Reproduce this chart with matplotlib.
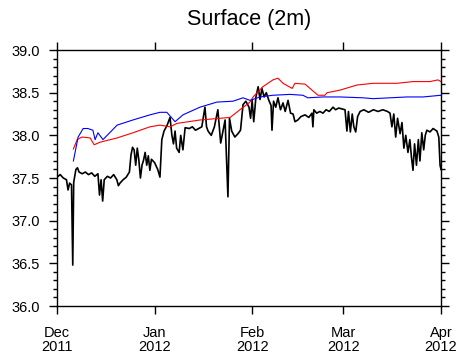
import numpy as np
import matplotlib
matplotlib.use("Agg")
import matplotlib.pyplot as plt
from matplotlib.ticker import MultipleLocator

plt.rcParams['font.family'] = ['Liberation Sans', 'DejaVu Sans']

# days since 2011-12-01 00:00
obs_days = [0, 1, 2, 3, 3.5, 4, 4.6, 5.0, 5.3, 6.0, 6.5, 7, 8, 9, 10, 11, 12, 13, 13.5, 14,
            14.5, 15, 16, 17, 18, 19, 19.5, 20, 21, 22, 23, 23.5, 24, 24.5, 25, 25.5, 26,
            26.5, 27, 27.5, 28, 28.5, 29, 29.5, 30, 31, 32, 32.7, 33.3, 34, 35, 35.9, 36.5,
            37, 37.5, 38, 38.8, 39.3, 40.0, 40.7, 42, 43, 44, 45, 46, 47, 47.5, 48, 49, 50,
            51.1, 52, 53.4, 54.3, 54.8, 55.5, 56.5, 57.5, 58.3, 59.1, 60, 61, 61.5, 62, 62.5,
            63.2, 63.9, 64.5, 65.1, 65.8, 66.5, 67.3, 68.0, 68.3, 68.8, 69.5, 70.2, 71, 71.8,
            72.5, 73.4, 74.2, 75.0, 75.6, 76.5, 77.5, 78.8, 80, 81, 81.3, 81.6, 82.5, 83.5,
            84.5, 85.5, 86.5, 87.7, 88.5, 89.5, 90.5, 91.5, 92.1, 92.6, 93.2, 93.8, 94.3,
            94.9, 95.5, 96.3, 97.5, 99, 100.5, 102, 103.5, 105, 105.8, 106.4, 107, 107.6,
            108.2, 109, 109.6, 110.2, 110.8, 111.5, 112.1, 112.6, 113.1, 113.6, 114.2, 114.8,
            115.3, 115.9, 116.5, 117.0, 117.5, 118.5, 119.5, 120.7, 121.3, 121.7, 122]
obs_vals = [37.51, 37.54, 37.50, 37.48, 37.36, 37.44, 37.42, 36.48, 37.45, 37.60, 37.62, 37.57,
            37.55, 37.57, 37.54, 37.56, 37.52, 37.55, 37.30, 37.48, 37.23, 37.48, 37.52, 37.50,
            37.54, 37.48, 37.41, 37.44, 37.48, 37.51, 37.57, 37.77, 37.86, 37.83, 37.65, 37.85,
            37.71, 37.50, 37.65, 37.71, 37.80, 37.65, 37.76, 37.59, 37.72, 37.68, 37.60, 37.51,
            37.95, 38.05, 38.12, 38.21, 38.00, 37.90, 38.05, 37.85, 37.80, 38.00, 37.83, 38.09,
            38.08, 38.10, 38.06, 38.08, 38.10, 38.33, 38.10, 38.05, 38.00, 38.10, 38.30, 37.91,
            38.18, 37.28, 38.20, 38.05, 37.98, 38.02, 38.06, 38.36, 38.40, 38.33, 38.20, 38.41,
            38.16, 38.45, 38.57, 38.42, 38.55, 38.45, 38.50, 38.41, 38.35, 38.06, 38.40, 38.33,
            38.44, 38.30, 38.38, 38.28, 38.41, 38.26, 38.25, 38.16, 38.18, 38.22, 38.24, 38.21,
            38.26, 38.10, 38.30, 38.26, 38.28, 38.26, 38.30, 38.28, 38.33, 38.30, 38.32, 38.31,
            38.30, 38.05, 38.28, 38.04, 38.25, 38.10, 38.04, 38.22, 38.28, 38.30, 38.27, 38.30,
            38.28, 38.30, 38.28, 38.26, 38.10, 38.25, 37.98, 38.20, 38.02, 38.15, 37.85, 38.00,
            37.80, 37.95, 37.75, 37.59, 37.90, 37.65, 37.95, 37.70, 38.03, 37.83, 38.00, 38.06,
            38.04, 38.08, 38.05, 37.98, 37.65, 37.60]

red_days = [5.2, 6.4, 7.9, 10.5, 11.8, 13.7, 19.1, 24.1, 29.5, 32.7, 35.9, 38.1, 45.4, 55.0,
            58.1, 61.3, 62.3, 65.4, 68.6, 70.2, 71.8, 74.7, 75.6, 78.8, 81.0, 82.9, 85.1, 85.8,
            89.9, 95.3, 100.4, 108.0, 113.1, 118.5, 121.0, 122]
red_vals = [37.84, 37.95, 37.98, 37.97, 37.89, 37.92, 37.97, 38.03, 38.10, 38.12, 38.10, 38.14,
            38.18, 38.21, 38.30, 38.39, 38.45, 38.57, 38.65, 38.67, 38.61, 38.55, 38.61, 38.60,
            38.53, 38.47, 38.47, 38.50, 38.53, 38.59, 38.61, 38.61, 38.63, 38.63, 38.65, 38.63]

blue_days = [5.2, 6.7, 8.3, 9.8, 11.4, 12.1, 13.0, 14.6, 19.1, 24.1, 29.5, 32.7, 34.9, 37.5,
             40.0, 45.4, 50.8, 55.9, 59.1, 61.3, 64.5, 68.6, 74.0, 78.1, 79.7, 84.5, 89.9,
             97.2, 100.4, 105.8, 111.2, 116.3, 122]
blue_vals = [37.70, 37.98, 38.08, 38.08, 38.06, 37.95, 38.03, 37.95, 38.12, 38.18, 38.24, 38.27,
             38.27, 38.16, 38.24, 38.33, 38.39, 38.40, 38.44, 38.41, 38.45, 38.47, 38.48, 38.47,
             38.44, 38.45, 38.45, 38.44, 38.43, 38.44, 38.45, 38.45, 38.47]

month_ticks = ['2011-12-01', '2012-01-01', '2012-02-01', '2012-03-01', '2012-04-01']
month_labels = ['Dec\n2011', 'Jan\n2012', 'Feb\n2012', 'Mar\n2012', 'Apr\n2012']

start = np.datetime64('2011-12-01T00:00')


def to_time(days):
    return start + (np.array(days) * 1440).astype('timedelta64[m]')


fig = plt.figure(figsize=(4.58, 3.56), dpi=100)
ax = fig.add_axes([0.1245, 0.1404, 0.8384, 0.7191])

ax.plot(to_time(obs_days), obs_vals, color='black', lw=1.2)
ax.plot(to_time(red_days), red_vals, color='red', lw=0.8)
ax.plot(to_time(blue_days), blue_vals, color='blue', lw=0.8)

ticks = np.array(month_ticks, dtype='datetime64[D]')
ax.set_xlim(ticks[0], ticks[-1])
ax.set_xticks(ticks, month_labels, linespacing=1.0)
ax.set_ylim(36.0, 39.0)
ax.yaxis.set_major_locator(MultipleLocator(0.5))
ax.yaxis.set_minor_locator(MultipleLocator(0.1))
ax.yaxis.set_major_formatter(plt.FormatStrFormatter('%.1f'))

ax.tick_params(which='both', direction='out', top=True, right=True, width=1.0)
ax.tick_params(which='major', length=5.5, labelsize=10.5, pad=7)
ax.tick_params(axis='x', which='major', pad=9)
ax.tick_params(which='minor', length=3)
for s in ax.spines.values():
    s.set_linewidth(1.0)

ax.set_title('Surface (2m)', fontsize=15.5, pad=18)

fig.savefig('out.png', dpi=100)
